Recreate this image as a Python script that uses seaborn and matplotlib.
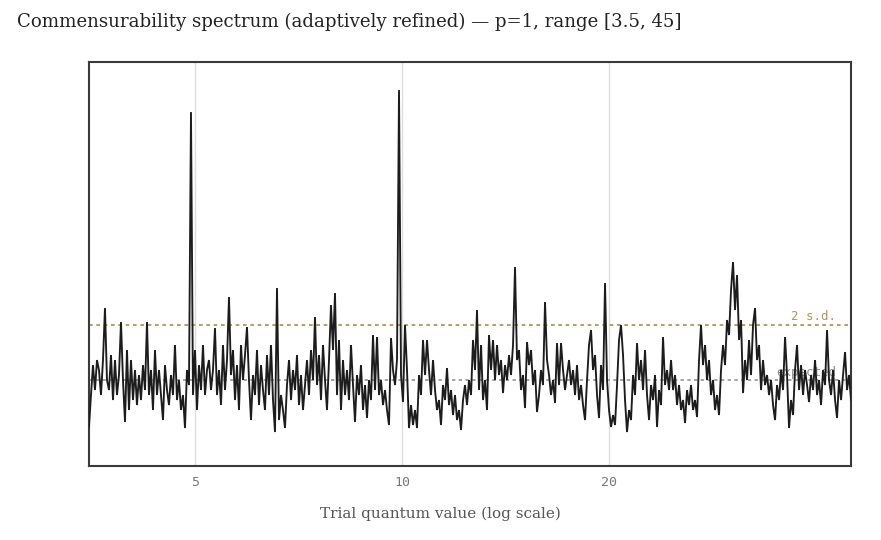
import numpy as np
import matplotlib
matplotlib.use('Agg')
import matplotlib.pyplot as plt
import seaborn as sns

# spectrum power (arbitrary units), left to right
power = [
    39, 71, 101, 76, 106, 96, 71, 106, 158, 86,
    76, 111, 66, 106, 71, 91, 144, 86, 44, 116,
    56, 106, 66, 96, 61, 91, 66, 101, 76, 144,
    71, 96, 56, 116, 71, 96, 71, 46, 101, 76,
    61, 91, 71, 121, 66, 86, 56, 71, 38, 96,
    81, 354, 71, 116, 56, 101, 76, 121, 71, 96,
    106, 76, 96, 138, 71, 96, 61, 121, 76, 106,
    169, 91, 116, 66, 101, 56, 121, 86, 111, 139,
    86, 46, 91, 71, 116, 61, 101, 76, 56, 111,
    71, 121, 66, 34, 178, 46, 71, 56, 38, 81,
    106, 66, 96, 76, 111, 61, 91, 56, 81, 106,
    71, 116, 86, 149, 81, 111, 66, 121, 86, 56,
    106, 161, 116, 173, 71, 126, 56, 106, 71, 96,
    66, 121, 81, 44, 91, 71, 101, 56, 81, 48,
    86, 66, 131, 76, 129, 71, 86, 61, 76, 56,
    41, 128, 96, 81, 106, 376, 91, 64, 141, 96,
    38, 61, 41, 56, 38, 91, 71, 126, 91, 126,
    96, 71, 106, 76, 56, 66, 41, 81, 66, 98,
    61, 76, 51, 71, 46, 56, 36, 66, 81, 61,
    86, 71, 126, 96, 156, 76, 121, 66, 86, 56,
    131, 96, 126, 86, 121, 91, 106, 73, 101, 86,
    111, 91, 121, 199, 106, 116, 76, 91, 58, 124,
    101, 116, 81, 96, 54, 71, 96, 81, 164, 106,
    91, 71, 86, 63, 123, 81, 123, 96, 76, 91,
    106, 81, 96, 71, 101, 66, 81, 61, 46, 86,
    121, 136, 96, 111, 71, 48, 101, 76, 183, 86,
    56, 39, 51, 41, 81, 126, 141, 111, 66, 34,
    56, 46, 91, 71, 123, 86, 106, 76, 116, 71,
    46, 81, 66, 91, 39, 76, 61, 129, 81, 96,
    76, 106, 76, 91, 61, 81, 56, 66, 43, 76,
    61, 81, 56, 66, 49, 106, 141, 101, 121, 86,
    106, 71, 86, 56, 71, 51, 96, 121, 101, 146,
    131, 176, 204, 156, 191, 126, 146, 73, 106, 86,
    126, 91, 141, 158, 106, 121, 76, 106, 81, 91,
    71, 86, 61, 46, 81, 66, 96, 76, 129, 91,
    38, 66, 51, 96, 121, 76, 101, 71, 96, 81,
    64, 91, 76, 106, 71, 86, 61, 96, 81, 136,
    86, 71, 96, 66, 48, 86, 66, 91, 114, 76, 91, 66,
]
q_min, q_max = 3.5, 45
expected = 86
two_sd = 141
tick_vals = [5, 10, 20]

# trial quanta on a log grid across the range
quanta = np.geomspace(q_min, q_max, len(power))

sns.set_theme(style='white')
plt.rcParams['font.family'] = ['DejaVu Serif']

fig = plt.figure(figsize=(8.81, 5.40), dpi=100)
ax = fig.add_axes([0.101, 0.137, 0.865, 0.748])

sns.lineplot(x=quanta, y=power, ax=ax, color='#1c1c1c', linewidth=1.35, zorder=3,
             solid_joinstyle='miter')

ax.axhline(two_sd, color='#a8904a', linestyle=(0, (2.2, 2.2)), linewidth=1.2, zorder=2)
ax.axhline(expected, color='#8a8a8a', linestyle=(0, (2.2, 2.2)), linewidth=1.1, zorder=2)
ax.text(0.98, two_sd + 2, '2 s.d.', transform=ax.get_yaxis_transform(), ha='right', va='bottom',
        color='#b0955a', fontsize=9, family='DejaVu Sans Mono', zorder=1)
ax.text(0.98, expected + 1, 'expected', transform=ax.get_yaxis_transform(), ha='right', va='bottom',
        color='#8a8a8a', fontsize=9, family='DejaVu Sans Mono', zorder=1)

ax.set_xscale('log')
ax.set_xlim(q_min, q_max)
ax.set_ylim(0, 404)
ax.set_xticks(tick_vals)
ax.set_xticklabels([str(t) for t in tick_vals], family='DejaVu Sans Mono', color='#777777', fontsize=9.5)
ax.xaxis.set_minor_locator(matplotlib.ticker.NullLocator())
ax.set_yticks([])
ax.tick_params(axis='x', length=0, pad=7)
ax.grid(axis='x', color='#dddddd', linewidth=1)
for s in ax.spines.values():
    s.set_color('#3a3a3a')
    s.set_linewidth(1.5)

ax.set_xlabel('')
ax.set_ylabel('')
fig.text(0.5, 1 - 514 / 540, 'Trial quantum value (log scale)', ha='center', va='center',
         color='#555555', fontsize=11)
fig.text(17 / 881, 1 - 22 / 540, 'Commensurability spectrum (adaptively refined) \u2014 p=1, range [3.5, 45]',
         ha='left', va='center', fontsize=13.1, color='#222222')

fig.savefig('out.png', dpi=100)
